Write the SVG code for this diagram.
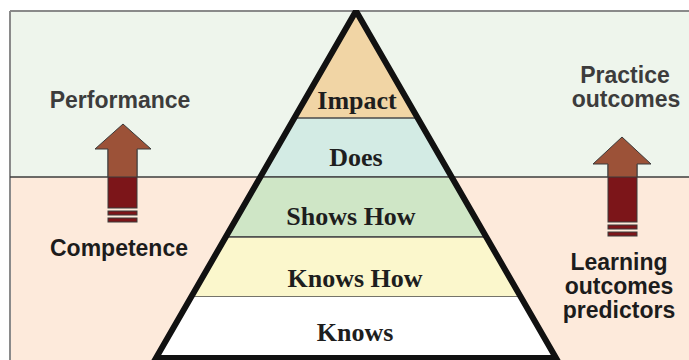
<svg xmlns="http://www.w3.org/2000/svg" width="689" height="360" viewBox="0 0 689 360">
  <defs>
    <style>
      .band { stroke: #4a4a4a; stroke-width: 1.5; }
      .lvl { font-family: "Liberation Serif", "Times New Roman", serif; font-weight: bold; font-size: 26px; fill: #1e1e1e; text-anchor: middle; }
      .side { font-family: "Liberation Sans", Arial, sans-serif; font-weight: bold; font-size: 23px; text-anchor: middle; }
      .top { fill: #3c3c3c; }
      .low { fill: #1c1c1c; }
      .head { fill: #9c5238; stroke: #3a3a3a; stroke-width: 1; }
      .shaft { fill: #7c1519; stroke: #3a3a3a; stroke-width: 1; }
    </style>
    <clipPath id="frameClip">
      <rect x="0" y="10" width="689" height="360"/>
    </clipPath>
  </defs>

  <!-- background panels -->
  <g id="panels">
    <rect x="10" y="11" width="690" height="166" fill="#eef5ec"/>
    <rect x="10" y="177" width="690" height="190" fill="#fdeadb"/>
    <line x1="10" y1="11" x2="689" y2="11" stroke="#8a8a8a" stroke-width="2"/>
    <line x1="10" y1="11" x2="10" y2="360" stroke="#8a8a8a" stroke-width="2"/>
    <line x1="10" y1="177" x2="689" y2="177" stroke="#3c3c3c" stroke-width="1.5"/>
  </g>

  <!-- pyramid levels -->
  <g id="pyramid">
    <g id="impact">
      <polygon points="356,11 296,118 416,118" fill="#f1d5a5"/>
      <text class="lvl" x="357" y="109">Impact</text>
    </g>
    <g id="does">
      <polygon class="band" points="296,118 416,118 450,177 262,177" fill="#d3ebe4"/>
      <text class="lvl" x="356" y="166">Does</text>
    </g>
    <g id="shows-how">
      <polygon class="band" points="262,177 450,177 485,237 227,237" fill="#cfe6c6"/>
      <text class="lvl" x="351" y="225">Shows How</text>
    </g>
    <g id="knows-how">
      <polygon class="band" points="227,237 485,237 520,297 192,297" fill="#fbf7cc"/>
      <text class="lvl" x="355" y="287">Knows How</text>
    </g>
    <g id="knows">
      <polygon points="192,297 520,297 556,358 156,358" fill="#ffffff"/>
      <text class="lvl" x="355" y="341">Knows</text>
    </g>
    <polygon points="356,11 156,358 556,358" fill="none" stroke="#111" stroke-width="6" stroke-linejoin="miter" clip-path="url(#frameClip)"/>
  </g>

  <!-- side labels -->
  <g id="performance"><text class="side top" x="120" y="108">Performance</text></g>
  <g id="competence"><text class="side low" x="119" y="256">Competence</text></g>
  <g id="practice-outcomes">
    <text class="side top" x="625" y="83">Practice</text>
    <text class="side top" x="626" y="107">outcomes</text>
  </g>
  <g id="learning-outcomes">
    <text class="side low" x="619" y="270">Learning</text>
    <text class="side low" x="619" y="294">outcomes</text>
    <text class="side low" x="619" y="318">predictors</text>
  </g>

  <!-- upward arrows -->
  <g id="connectors">
    <g id="arrow-left">
      <rect class="shaft" x="108" y="150" width="29" height="58"/>
      <rect class="shaft" x="108" y="211" width="29" height="4"/>
      <rect class="shaft" x="108" y="218" width="29" height="4"/>
      <polygon class="head" points="123,124 151,149 137,149 137,177 108,177 108,149 95,149"/>
    </g>
    <g id="arrow-right">
      <rect class="shaft" x="608" y="165" width="29" height="57"/>
      <rect class="shaft" x="608" y="225" width="29" height="4"/>
      <rect class="shaft" x="608" y="232" width="29" height="4"/>
      <polygon class="head" points="622,137 651,164 637,164 637,177 608,177 608,164 593,164"/>
    </g>
  </g>
</svg>
